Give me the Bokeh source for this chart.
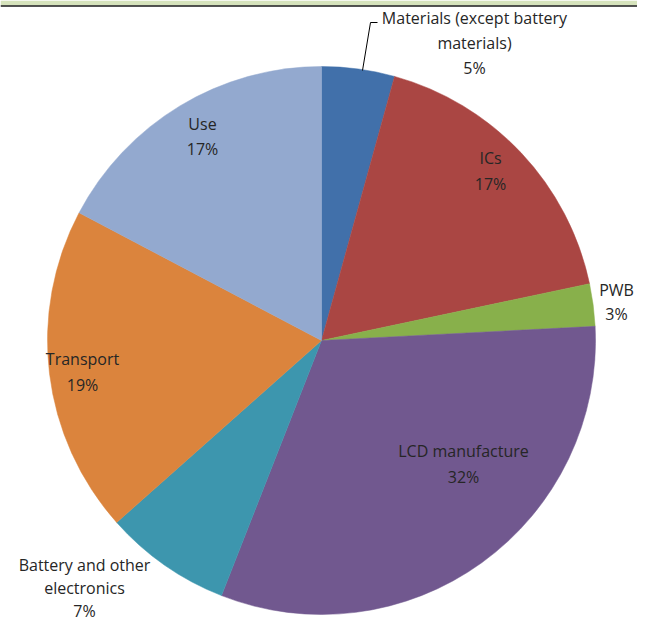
import math
from bokeh.plotting import figure
from bokeh.models import Range1d, ColumnDataSource
from bokeh.core.properties import value
from bokeh.embed import file_html
from bokeh.resources import INLINE

categories = ["Materials (except battery materials)", "ICs", "PWB", "LCD manufacture",
              "Battery and other electronics", "Transport", "Use"]
shares = [4.3, 17.4, 2.5, 31.8, 7.5, 19.3, 17.3]
pct_labels = ["5%", "17%", "3%", "32%", "7%", "19%", "17%"]
colors = ["#4170AA", "#AA4643", "#88B04B", "#71588F", "#3D96AE", "#DB843D", "#93A9CF"]

FW, FH = 637, 623
# data coords: x = pixel x, y = FH - pixel y
p = figure(width=FW, height=FH, output_backend="svg", toolbar_location=None,
           x_range=Range1d(0, FW), y_range=Range1d(0, FH), min_border=0)
p.axis.visible = False
p.grid.visible = False
p.outline_line_color = None
p.background_fill_color = "white"

# top band
p.quad(left=0, right=FW, bottom=FH - 5, top=FH, fill_color="#D6E3BC", line_color=None)
p.line(x=[0, FW], y=[FH - 5.5, FH - 5.5], line_color="#1a1a1a", line_width=1.5)

cx, cy, r = 321, FH - 340, 274
total = sum(shares)
starts, ends = [], []
acc = 0.0
for s in shares:
    a0 = math.pi / 2 - acc / total * 2 * math.pi
    acc += s
    a1 = math.pi / 2 - acc / total * 2 * math.pi
    starts.append(a0)
    ends.append(a1)

src = ColumnDataSource(dict(start=starts, end=ends, color=colors))
p.wedge(x=cx, y=cy, radius=r, start_angle="start", end_angle="end", direction="clock",
        fill_color="color", line_color="color", line_width=0.5, source=src)

label_lines = [
    ["Materials (except battery", "materials)", pct_labels[0]],
    ["ICs", pct_labels[1]],
    ["PWB", pct_labels[2]],
    ["LCD manufacture", pct_labels[3]],
    ["Battery and other", "electronics", pct_labels[4]],
    ["Transport", pct_labels[5]],
    ["Use", pct_labels[6]],
]
label_pos = [(474, 17), (490, 157), (616, 289), (463, 450), (84, 564), (82, 358), (202, 123)]
line_h = [25, 26, 24, 26, 23, 26, 25]
xs, ys, ts = [], [], []
for lines, (lx, ly), lh in zip(label_lines, label_pos, line_h):
    for i, t in enumerate(lines):
        xs.append(lx)
        ys.append(FH - (ly + i * lh))
        ts.append(t)
p.text(x=xs, y=ys, text=ts, text_align="center", text_baseline="middle",
       text_font=value("Open Sans"), text_font_size="16px", text_color="#262626")

# leader line for Materials
p.line(x=[377, 370, 362], y=[FH - 22, FH - 22, FH - 70], line_color="black", line_width=1)

open("out.html", "w").write(file_html(p, INLINE))
